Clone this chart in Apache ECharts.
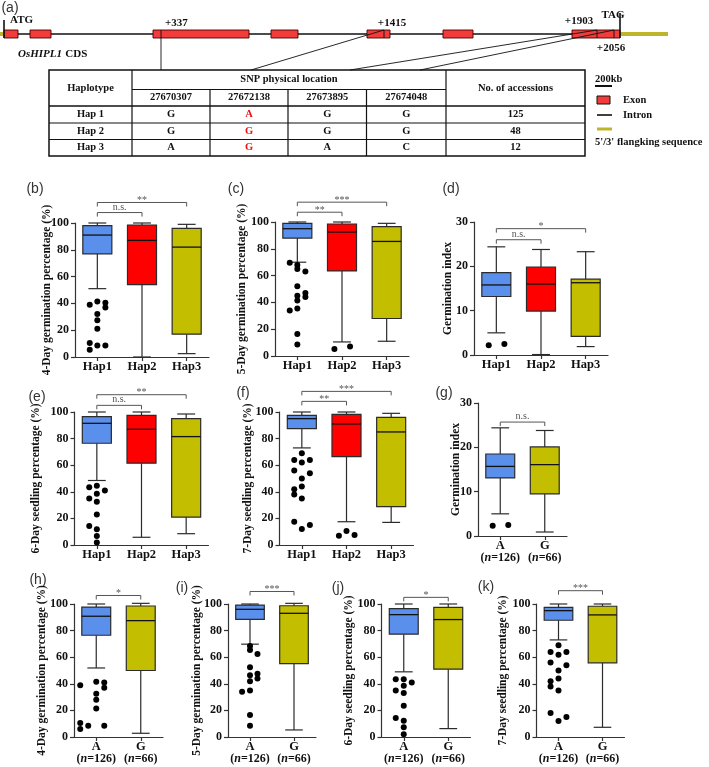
<!DOCTYPE html>
<html>
<head>
<meta charset="utf-8">
<title>OsHIPL1 haplotypes</title>
<script src="https://cdn.jsdelivr.net/npm/echarts@6/dist/echarts.min.js"></script>
<style>html,body{margin:0;padding:0;background:#fff;}</style>
</head>
<body>
<div id="main" style="width:709px;height:767px;"></div>
<script type="text/javascript">
// ---- (a) gene model, schematic units along the drawing ----
var exons = [[4, 18], [30, 51], [153, 249], [271, 298], [367, 390], [443, 473], [572, 620]];
var cdsSpan = [4, 620];
var flank5 = [0, 4];
var flank3 = [620, 668];
var snpSites = [161, 384, 597, 614];

// ---- (a) haplotype table ----
var snpIds = ['27670307', '27672138', '27673895', '27674048'];
var haplotypes = ['Hap 1', 'Hap 2', 'Hap 3'];
var alleles = [['G', 'A', 'G', 'G'], ['G', 'G', 'G', 'G'], ['A', 'G', 'A', 'C']];
var accessions = [125, 48, 12];

// ---- categories ----
var hapCats = ['Hap1', 'Hap2', 'Hap3'];
var alleleCats = ['A', 'G'];
var alleleN = [126, 66];

// box stats per category: [low whisker, Q1, median, Q3, high whisker]
var statsB = [[51, 77, 91, 98, 100], [0, 54, 87, 98.5, 100], [2.5, 17, 82, 96, 99]];
var statsC = [[70, 88, 95, 99, 100], [10.5, 63.5, 92.5, 98.5, 100], [11, 28, 85.5, 96.5, 99]];
var statsD = [[5, 13.2, 15.8, 18.6, 24.4], [0.1, 9.9, 16, 19.8, 23.8], [1.9, 4.2, 16.3, 17.1, 23.3]];
var statsE = [[48.5, 76.5, 91.5, 96.5, 100], [5.8, 61.5, 87, 97.5, 100], [8.5, 21, 81.5, 95, 98.5]];
var statsF = [[73, 87.5, 95, 97.5, 100], [17.5, 66.5, 91, 98.2, 100], [17, 28.8, 85, 96, 99]];
var statsG = [[5, 13.1, 15.7, 18.5, 24.4], [0.9, 9.5, 16.1, 20.1, 23.8]];
var statsH = [[51.9, 76.5, 90.8, 97.7, 100], [2.8, 50, 87.5, 98.5, 100.5]];
var statsI = [[69.8, 88.4, 96, 99.2, 100], [5.3, 55.2, 93, 98.7, 100.5]];
var statsJ = [[49, 77.3, 92, 96.5, 100], [6.3, 51, 88.3, 97.5, 100]];
var statsK = [[73, 87.8, 95, 97.5, 100], [7.3, 55.8, 91.8, 98.3, 100]];

// outliers: [category index, jitter (fraction of band), value]
var outB = [[0, -0.17, 39], [0, 0, 41.5], [0, 0.18, 40.5], [0, 0.18, 37], [0, 0, 32], [0, 0, 27.5], [0, 0, 21],
  [0, -0.17, 10.5], [0, 0, 8.5], [0, 0.18, 8.5], [0, -0.17, 5.5]];
var outC = [[0, -0.17, 69.5], [0, 0, 68], [0, 0, 65], [0, 0.18, 63], [0, 0, 52], [0, 0.18, 47], [0, 0, 45], [0, 0.18, 44],
  [0, 0, 41.5], [0, -0.17, 34], [0, 0, 35.5], [0, 0, 16.5], [0, 0, 8.5], [1, -0.17, 5.2], [1, 0.18, 7]];
var outD = [[0, -0.17, 2.2], [0, 0.18, 2.5]];
var outE = [[0, -0.17, 43.5], [0, 0, 44.5], [0, 0.18, 41], [0, 0, 38.5], [0, -0.17, 35], [0, 0, 32.5], [0, 0, 23],
  [0, -0.17, 14.3], [0, 0, 11.8], [0, 0, 6.8], [0, 0, 1.8]];
var outF = [[0, 0, 69], [0, -0.17, 64], [0, 0, 62], [0, 0.18, 64], [0, -0.17, 56], [0, 0.18, 54], [0, 0, 50], [0, 0, 44],
  [0, -0.17, 42], [0, -0.17, 38], [0, 0, 35], [0, -0.17, 17.5], [0, 0, 12], [0, 0.18, 15],
  [1, -0.17, 7], [1, 0, 10.5], [1, 0.18, 7.5]];
var outG = [[0, -0.17, 2.3], [0, 0.18, 2.5]];
var outH = [[0, -0.36, 39], [0, 0, 41.5], [0, 0.18, 41], [0, 0.18, 37], [0, 0, 32.5], [0, 0, 28], [0, 0, 21.5],
  [0, -0.36, 10.5], [0, -0.18, 8.5], [0, 0.18, 8.5], [0, -0.36, 6]];
var outI = [[0, 0, 68.5], [0, 0, 65.5], [0, 0.17, 62.5], [0, 0, 52.5], [0, 0, 46.5], [0, 0.17, 47.5], [0, 0.17, 44],
  [0, 0, 42], [0, -0.18, 34], [0, 0, 35], [0, 0, 16.5], [0, 0, 8.5]];
var outJ = [[0, -0.18, 43.5], [0, 0, 43.5], [0, 0.18, 41], [0, 0, 38.5], [0, -0.18, 35], [0, 0, 33], [0, 0, 23.5],
  [0, -0.18, 14.3], [0, 0, 12.3], [0, 0, 7.3], [0, 0, 2]];
var outK = [[0, 0, 69], [0, -0.18, 64], [0, 0, 61.8], [0, 0.18, 64], [0, -0.18, 56], [0, 0.18, 54], [0, 0, 50], [0, 0, 44],
  [0, -0.18, 42], [0, -0.18, 38], [0, 0, 35], [0, -0.18, 18], [0, 0, 12], [0, 0.18, 15]];

// significance brackets: [from, to, height on y scale] + label
var brB = [[0, 1, 107.8], [0, 2, 115.3]], sigB = ['n.s.', '**'];
var brC = [[0, 1, 107.3], [0, 2, 114.8]], sigC = ['**', '***'];
var brD = [[0, 1, 26], [0, 2, 28.5]], sigD = ['n.s.', '*'];
var brE = [[0, 1, 105], [0, 2, 113]], sigE = ['n.s.', '**'];
var brF = [[0, 1, 108], [0, 2, 115.5]], sigF = ['**', '***'];
var brG = [[0, 1, 25.7]], sigG = ['n.s.'];
var brH = [[0, 1, 106.4]], sigH = ['*'];
var brI = [[0, 1, 109.4]], sigI = ['***'];
var brJ = [[0, 1, 105]], sigJ = ['*'];
var brK = [[0, 1, 110]], sigK = ['***'];

var SERIF = '"Liberation Serif", "Times New Roman", serif';
var SANS = '"Liberation Sans", Arial, sans-serif';
var INK = '#2b2b2b';
var fillOf = {Hap1: '#5b8fec', Hap2: '#ff0000', Hap3: '#c4be00', A: '#5b8fec', G: '#c4be00'};

var panels = [
  {tag: '(b)', tp: [35, 189], cats: hapCats, stats: statsB, out: outB, br: brB, sig: sigB, max: 100, step: 20,
    title: '4-Day germination percentage (%)', gap: 22, box: {left: 75, top: 223, width: 134, height: 134}},
  {tag: '(c)', tp: [236, 189], cats: hapCats, stats: statsC, out: outC, br: brC, sig: sigC, max: 100, step: 20,
    title: '5-Day germination percentage (%)', gap: 27, box: {left: 275, top: 222, width: 134, height: 134}},
  {tag: '(d)', tp: [451, 189], cats: hapCats, stats: statsD, out: outD, br: brD, sig: sigD, max: 30, step: 10,
    title: 'Germination index', gap: 20, box: {left: 474, top: 222, width: 134, height: 133}},
  {tag: '(e)', tp: [37, 397], cats: hapCats, stats: statsE, out: outE, br: brE, sig: sigE, max: 100, step: 20,
    title: '6-Day seedling percentage (%)', gap: 32, box: {left: 74.5, top: 412, width: 134, height: 133}},
  {tag: '(f)', tp: [243, 393], cats: hapCats, stats: statsF, out: outF, br: brF, sig: sigF, max: 100, step: 20,
    title: '7-Day seedling percentage (%)', gap: 25, box: {left: 279.5, top: 412, width: 134, height: 133}},
  {tag: '(g)', tp: [444, 393], cats: alleleCats, stats: statsG, out: outG, br: brG, sig: sigG, max: 30, step: 10,
    title: 'Germination index', gap: 16, box: {left: 478, top: 403, width: 89, height: 133}},
  {tag: '(h)', tp: [38, 580], cats: alleleCats, stats: statsH, out: outH, br: brH, sig: sigH, max: 100, step: 20,
    title: '4-Day germination percentage (%)', gap: 26, box: {left: 74, top: 604, width: 89, height: 133}},
  {tag: '(i)', tp: [182, 588], cats: alleleCats, stats: statsI, out: outI, br: brI, sig: sigI, max: 100, step: 20,
    title: '5-Day germination percentage (%)', gap: 25, box: {left: 228, top: 604, width: 88, height: 133}},
  {tag: '(j)', tp: [338, 588], cats: alleleCats, stats: statsJ, out: outJ, br: brJ, sig: sigJ, max: 100, step: 20,
    title: '6-Day seedling percentage (%)', gap: 26, box: {left: 381.5, top: 604, width: 89, height: 133}},
  {tag: '(k)', tp: [486, 587], cats: alleleCats, stats: statsK, out: outK, br: brK, sig: sigK, max: 100, step: 20,
    title: '7-Day seedling percentage (%)', gap: 27, box: {left: 536.5, top: 604, width: 88, height: 133}}
];

var chart = echarts.init(document.getElementById('main'));

// gene model drawn on a hidden value axis
var geneSeries = {
  type: 'custom', xAxisIndex: 0, yAxisIndex: 0, silent: true,
  data: [[0, 0]],
  renderItem: function (params, api) {
    var kids = [];
    var mid = function (x) { return api.coord([x, 0.5]); };
    var top = function (x) { return api.coord([x, 1]); };
    var bot = function (x) { return api.coord([x, 0]); };
    [flank5, flank3].forEach(function (f) {
      var a = mid(f[0]), b = mid(f[1]);
      kids.push({type: 'line', shape: {x1: a[0], y1: a[1], x2: b[0], y2: b[1]}, style: {stroke: '#bfb42a', lineWidth: 4}});
    });
    var c0 = mid(cdsSpan[0]), c1 = mid(cdsSpan[1]);
    kids.push({type: 'line', shape: {x1: c0[0], y1: c0[1], x2: c1[0], y2: c1[1]}, style: {stroke: '#111', lineWidth: 1.6}});
    exons.forEach(function (e) {
      var a = top(e[0]), b = bot(e[1]);
      kids.push({type: 'rect', shape: {x: a[0], y: a[1], width: b[0] - a[0], height: b[1] - a[1]},
        style: {fill: '#f23b3b', stroke: '#4a0000', lineWidth: 0.9}});
    });
    // start / stop ticks
    var s = top(cdsSpan[0]), t = top(cdsSpan[1]);
    kids.push({type: 'line', shape: {x1: s[0], y1: s[1] - 10, x2: s[0], y2: s[1] + 8}, style: {stroke: '#111', lineWidth: 1.6}});
    kids.push({type: 'line', shape: {x1: t[0], y1: t[1] - 17, x2: t[0], y2: t[1] + 8}, style: {stroke: '#111', lineWidth: 1.6}});
    // SNP sites to table columns
    var colEnds = [161, 251, 350, 420];
    snpSites.forEach(function (x, i) {
      var a = top(x), b = bot(x);
      if (i > 0) kids.push({type: 'line', shape: {x1: a[0], y1: a[1], x2: b[0], y2: b[1]}, style: {stroke: '#111', lineWidth: 0.9}});
      kids.push({type: 'line', shape: {x1: a[0], y1: a[1], x2: colEnds[i], y2: 70}, style: {stroke: '#111', lineWidth: 0.9}});
    });
    var lab = function (txt, x, y, align) {
      kids.push({type: 'text', x: x, y: y, style: {text: txt, align: align || 'center', verticalAlign: 'middle',
        font: 'bold 11px ' + SERIF, fill: '#111'}});
    };
    lab('ATG', s[0] + 6, 20, 'left');
    lab('TAG', t[0] - 7, 15);
    lab('+337', top(snpSites[0])[0] + 4, 23, 'left');
    lab('+1415', top(snpSites[1])[0] + 8, 23);
    lab('+1903', top(snpSites[2])[0] - 18, 21);
    lab('+2056', top(snpSites[3])[0] - 3, 48);
    kids.push({type: 'text', x: 18, y: 54, style: {text: '{i|OsHIPL1} {n|CDS}', verticalAlign: 'middle',
      rich: {i: {font: 'italic bold 11px ' + SERIF, fill: '#111'}, n: {font: 'bold 11px ' + SERIF, fill: '#111'}}}});
    return {type: 'group', children: kids};
  }
};

function boxRender(cats) {
  return function (params, api) {
    var i = api.value(0);
    var band = api.size([1, 0])[0];
    var hb = band * 0.325, hc = band * 0.2;
    var lo = api.coord([i, api.value(1)]), q1 = api.coord([i, api.value(2)]), md = api.coord([i, api.value(3)]),
      q3 = api.coord([i, api.value(4)]), hi = api.coord([i, api.value(5)]);
    var x = lo[0];
    var st = {stroke: INK, lineWidth: 1.2};
    return {type: 'group', children: [
      {type: 'line', shape: {x1: x, y1: lo[1], x2: x, y2: q1[1]}, style: st},
      {type: 'line', shape: {x1: x, y1: hi[1], x2: x, y2: q3[1]}, style: st},
      {type: 'line', shape: {x1: x - hc, y1: lo[1], x2: x + hc, y2: lo[1]}, style: st},
      {type: 'line', shape: {x1: x - hc, y1: hi[1], x2: x + hc, y2: hi[1]}, style: st},
      {type: 'rect', shape: {x: x - hb, y: q3[1], width: 2 * hb, height: q1[1] - q3[1]},
        style: {fill: fillOf[cats[i]], stroke: INK, lineWidth: 1.2}},
      {type: 'line', shape: {x1: x - hb, y1: md[1], x2: x + hb, y2: md[1]}, style: {stroke: '#111', lineWidth: 1.3}}
    ]};
  };
}

function dotRender(params, api) {
  var band = api.size([1, 0])[0];
  var p = api.coord([api.value(0), api.value(2)]);
  return {type: 'circle', shape: {cx: p[0] + api.value(1) * band, cy: p[1], r: 3}, style: {fill: '#000'}};
}

function bracketRender(sig) {
  return function (params, api) {
    var a = api.coord([api.value(0), api.value(2)]);
    var b = api.coord([api.value(1), api.value(2)]);
    var txt = sig[params.dataIndex];
    var star = txt.indexOf('*') === 0;
    return {type: 'group', children: [
      {type: 'polyline', shape: {points: [[a[0], a[1] + 4], [a[0], a[1]], [b[0], b[1]], [b[0], b[1] + 4]]},
        style: {stroke: '#555', lineWidth: 1, fill: 'none'}},
      {type: 'text', x: (a[0] + b[0]) / 2, y: star ? a[1] - 7 : a[1] - 0.5,
        style: {text: txt, align: 'center', verticalAlign: star ? 'top' : 'bottom', font: '10px ' + SERIF, fill: '#555'}}
    ]};
  };
}

var grids = [{left: 0, top: 30, width: 709, height: 8}];
var xAxes = [{type: 'value', gridIndex: 0, min: 0, max: 709, show: false}];
var yAxes = [{type: 'value', gridIndex: 0, min: 0, max: 1, show: false}];
var series = [geneSeries];
var graphics = [];

var axisLine = {show: true, lineStyle: {color: '#333', width: 1.2}};
var tickStyle = {show: true, length: 4, lineStyle: {color: '#333', width: 1.2}};

panels.forEach(function (p, k) {
  var gi = k + 1;
  grids.push({left: p.box.left, top: p.box.top, width: p.box.width, height: p.box.height});
  var isAllele = p.cats === alleleCats;
  xAxes.push({
    type: 'category', gridIndex: gi, data: p.cats, boundaryGap: true,
    axisLine: axisLine, axisTick: {show: true, alignWithLabel: true, length: 4, lineStyle: {color: '#333', width: 1.2}},
    splitLine: {show: false},
    axisLabel: {
      interval: 0, margin: 4,
      formatter: function (v) {
        if (!isAllele) return '{c|' + v + '}';
        return '{c|' + v + '}\n{p|(}{i|n}{p|=' + alleleN[alleleCats.indexOf(v)] + ')}';
      },
      rich: {
        c: {fontFamily: SERIF, fontWeight: 'bold', fontSize: 12.5, color: '#111', lineHeight: 12},
        p: {fontFamily: SERIF, fontWeight: 'bold', fontSize: 12, color: '#111', lineHeight: 12},
        i: {fontFamily: SERIF, fontWeight: 'bold', fontStyle: 'italic', fontSize: 12, color: '#111', lineHeight: 12}
      }
    }
  });
  yAxes.push({
    type: 'value', gridIndex: gi, min: 0, max: p.max, interval: p.step,
    axisLine: axisLine, axisTick: tickStyle, splitLine: {show: false},
    axisLabel: {fontFamily: SERIF, fontWeight: 'bold', fontSize: 12, color: '#111', margin: 6},
    name: p.title, nameLocation: 'middle', nameRotate: 90, nameGap: p.gap, nameMoveOverlap: false,
    nameTextStyle: {fontFamily: SERIF, fontWeight: 'bold', fontSize: 11.5, color: '#111'}
  });
  series.push({
    type: 'custom', xAxisIndex: gi, yAxisIndex: gi, silent: true,
    data: p.stats.map(function (s, i) { return [i].concat(s); }),
    encode: {x: 0, y: [1, 2, 3, 4, 5]},
    renderItem: boxRender(p.cats)
  });
  series.push({
    type: 'custom', xAxisIndex: gi, yAxisIndex: gi, silent: true, z: 3,
    data: p.out, encode: {x: 0, y: 2}, renderItem: dotRender
  });
  series.push({
    type: 'custom', xAxisIndex: gi, yAxisIndex: gi, silent: true,
    data: p.br, encode: {x: [0, 1], y: 2}, renderItem: bracketRender(p.sig)
  });
  graphics.push({type: 'text', x: p.tp[0], y: p.tp[1],
    style: {text: p.tag, align: 'center', verticalAlign: 'middle', font: '14px ' + SANS, fill: '#333'}});
});

// panel (a) tag
graphics.push({type: 'text', x: 10, y: 8, style: {text: '(a)', align: 'center', verticalAlign: 'middle', font: '14px ' + SANS, fill: '#333'}});

// haplotype table
var colX = [49, 132, 210, 288, 366.5, 446, 585];
var rowY = [70, 89.5, 106, 123, 139.5, 156];
var tfont = 'bold 10.5px ' + SERIF;
function tline(x1, y1, x2, y2, w) {
  graphics.push({type: 'line', shape: {x1: x1, y1: y1, x2: x2, y2: y2}, style: {stroke: '#111', lineWidth: w || 1}});
}
function ttext(txt, x, y, color) {
  graphics.push({type: 'text', x: x, y: y, style: {text: txt, align: 'center', verticalAlign: 'middle', font: tfont, fill: color || '#111'}});
}
graphics.push({type: 'rect', shape: {x: colX[0], y: rowY[0], width: colX[6] - colX[0], height: rowY[5] - rowY[0]},
  style: {fill: 'none', stroke: '#111', lineWidth: 1.5}});
tline(colX[1], rowY[1], colX[5], rowY[1]);
[2, 3, 4].forEach(function (r) { tline(colX[0], rowY[r], colX[6], rowY[r], r === 2 ? 1.4 : 1.2); });
tline(colX[1], rowY[0], colX[1], rowY[5], 1.2);
tline(colX[5], rowY[0], colX[5], rowY[5], 1.2);
[2, 3, 4].forEach(function (c) { tline(colX[c], rowY[1], colX[c], rowY[5], 1.2); });
ttext('Haplotype', (colX[0] + colX[1]) / 2, (rowY[0] + rowY[2]) / 2);
ttext('SNP physical location', (colX[1] + colX[5]) / 2, (rowY[0] + rowY[1]) / 2);
ttext('No. of accessions', (colX[5] + colX[6]) / 2, (rowY[0] + rowY[2]) / 2);
snpIds.forEach(function (id, c) { ttext(id, (colX[c + 1] + colX[c + 2]) / 2, (rowY[1] + rowY[2]) / 2); });
haplotypes.forEach(function (h, r) {
  var yc = (rowY[r + 2] + rowY[r + 3]) / 2;
  ttext(h, (colX[0] + colX[1]) / 2, yc);
  alleles[r].forEach(function (a, c) { ttext(a, (colX[c + 1] + colX[c + 2]) / 2, yc, c === 1 ? '#ee1111' : '#111'); });
  ttext(String(accessions[r]), (colX[5] + colX[6]) / 2, yc);
});

// key
var lfont = 'bold 10.5px ' + SERIF;
graphics.push({type: 'text', x: 595, y: 79, style: {text: '200kb', verticalAlign: 'middle', font: lfont, fill: '#111'}});
tline(595, 86, 612, 86, 2);
graphics.push({type: 'rect', shape: {x: 597, y: 96, width: 13, height: 8}, style: {fill: '#f23b3b', stroke: '#111', lineWidth: 1}});
graphics.push({type: 'text', x: 623, y: 100, style: {text: 'Exon', verticalAlign: 'middle', font: lfont, fill: '#111'}});
tline(597, 115, 612, 115, 1.6);
graphics.push({type: 'text', x: 623, y: 115, style: {text: 'Intron', verticalAlign: 'middle', font: lfont, fill: '#111'}});
graphics.push({type: 'line', shape: {x1: 597, y1: 129, x2: 612, y2: 129}, style: {stroke: '#bfb42a', lineWidth: 3}});
graphics.push({type: 'text', x: 595, y: 142, style: {text: "5'/3' flangking sequence", verticalAlign: 'middle', font: lfont, fill: '#111'}});

var option = {
  backgroundColor: '#fff',
  animation: false,
  grid: grids,
  xAxis: xAxes,
  yAxis: yAxes,
  series: series,
  graphic: graphics
};
chart.setOption(option);
</script>
</body>
</html>
